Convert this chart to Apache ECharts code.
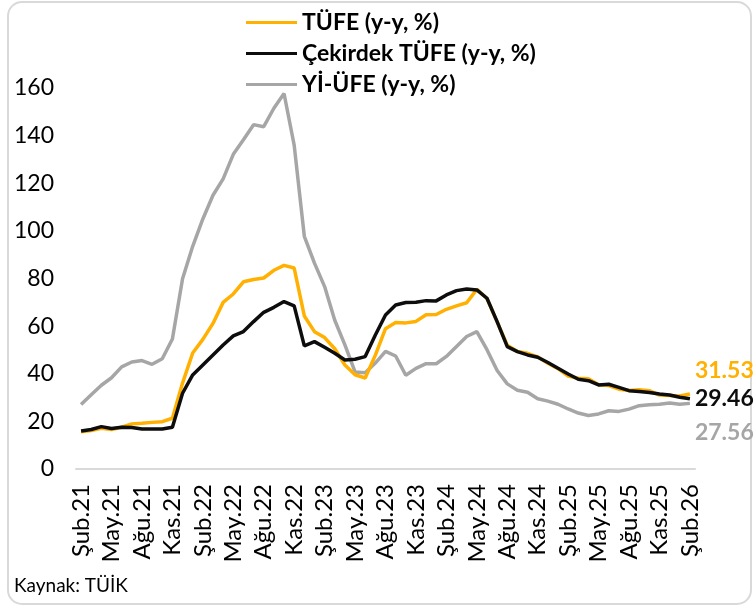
<!DOCTYPE html>
<html>
<head>
<meta charset="utf-8">
<script src="https://cdn.jsdelivr.net/npm/echarts@6/dist/echarts.min.js"></script>
<style>
html,body{margin:0;padding:0;background:#fff;}
#c{width:756px;height:608px;}
</style>
</head>
<body>
<div id="c"></div>
<script>
const categories = [
 'Şub.21','Mar.21','Nis.21','May.21','Haz.21','Tem.21','Ağu.21','Eyl.21','Eki.21','Kas.21','Ara.21',
 'Oca.22','Şub.22','Mar.22','Nis.22','May.22','Haz.22','Tem.22','Ağu.22','Eyl.22','Eki.22','Kas.22','Ara.22',
 'Oca.23','Şub.23','Mar.23','Nis.23','May.23','Haz.23','Tem.23','Ağu.23','Eyl.23','Eki.23','Kas.23','Ara.23',
 'Oca.24','Şub.24','Mar.24','Nis.24','May.24','Haz.24','Tem.24','Ağu.24','Eyl.24','Eki.24','Kas.24','Ara.24',
 'Oca.25','Şub.25','Mar.25','Nis.25','May.25','Haz.25','Tem.25','Ağu.25','Eyl.25','Eki.25','Kas.25','Ara.25',
 'Oca.26','Şub.26'
];
const tufe = [
 15.61,16.19,17.14,16.59,17.53,18.95,19.25,19.58,19.89,21.31,36.08,
 48.69,54.44,61.14,69.97,73.50,78.62,79.60,80.21,83.45,85.51,84.39,64.27,
 57.68,55.18,50.51,43.68,39.59,38.21,47.83,58.94,61.53,61.36,61.98,64.77,
 64.86,67.07,68.50,69.80,75.45,71.60,61.78,51.97,49.38,48.58,47.09,44.38,
 42.12,39.05,38.10,37.86,35.41,35.05,33.52,32.95,33.29,32.87,31.07,30.89,
 30.65,31.53
];
const cekirdek = [
 16.0,16.6,17.8,17.0,17.5,17.4,16.8,16.8,16.8,17.5,31.8,
 39.5,43.7,47.9,52.1,55.9,57.7,61.9,65.8,67.9,70.3,68.5,51.7,
 53.5,51.1,48.6,45.8,46.1,47.2,56.3,64.7,68.9,69.9,70.0,70.7,
 70.6,73.1,74.9,75.6,75.2,71.7,61.9,51.4,49.3,47.9,46.9,44.7,
 42.3,39.9,37.7,37.1,35.3,35.6,34.3,32.9,32.5,32.1,31.5,31.1,
 30.1,29.46
];
const yiufe = [
 27.09,31.20,35.17,38.33,42.89,44.92,45.52,43.96,46.31,54.62,79.89,
 93.53,105.01,114.97,121.82,132.16,138.31,144.61,143.75,151.50,157.69,136.02,97.72,
 86.46,76.61,62.45,52.11,40.76,40.42,44.50,49.41,47.44,39.39,42.25,44.22,
 44.20,47.29,51.47,55.66,57.68,50.09,41.37,35.75,33.09,32.24,29.47,28.52,
 27.20,25.21,23.50,22.50,23.13,24.45,24.19,25.16,26.59,27.00,27.23,27.67,
 27.17,27.56
];
const seriesNames = ['TÜFE (y-y, %)','Çekirdek TÜFE (y-y, %)','Yİ-ÜFE (y-y, %)'];
const colors = ['#FFB000','#0D0D0D','#A6A6A6'];

const FONT = 'Lato, "Open Sans", sans-serif';
const chart = echarts.init(document.getElementById('c'), null, {renderer:'canvas'});

function endLabel(color, dy){
  return {
    show:true,
    formatter: p => Number(p.value).toFixed(2),
    color: color,
    fontFamily: FONT,
    fontWeight: 'bold',
    fontSize: 23,
    distance: 5,
    offset: [0, dy]
  };
}

chart.setOption({
  animation:false,
  textStyle:{fontFamily:FONT},
  graphic:[
    {type:'rect', shape:{x:8,y:2,width:743,height:602,r:14}, style:{fill:'none',stroke:'#D9D9D9',lineWidth:2}, z:-1},
    {type:'text', x:14, y:586, style:{text:'Kaynak: TÜİK', font:'19px '+FONT, fill:'#000', textVerticalAlign:'middle'}}
  ],
  legend:{
    orient:'vertical',
    left:246, top:11, padding:0,
    itemWidth:51, itemHeight:3, itemGap:8,
    icon:'rect',
    data: seriesNames,
    textStyle:{fontFamily:FONT, fontWeight:'bold', fontSize:23, color:'#000', lineHeight:23, padding:[0,0,0,0]}
  },
  grid:{left:76, right:61, top:88, bottom:139, containLabel:false},
  xAxis:{
    type:'category',
    data: categories,
    boundaryGap:true,
    axisLine:{show:true, lineStyle:{color:'#D9D9D9', width:2}},
    axisTick:{show:false},
    axisLabel:{rotate:90, interval:2, fontSize:24, color:'#000', margin:15, fontFamily:FONT},
    splitLine:{show:false}
  },
  yAxis:{
    type:'value', min:0, max:160, interval:20,
    axisLine:{show:false}, axisTick:{show:false},
    splitLine:{show:false},
    axisLabel:{fontSize:23, color:'#000', margin:22, fontFamily:FONT}
  },
  series:[
    {name:seriesNames[2], type:'line', data:yiufe, symbol:'none', color:colors[2],
     lineStyle:{width:3.5, color:colors[2]}, endLabel:endLabel(colors[2], 29), z:2},
    {name:seriesNames[0], type:'line', data:tufe, symbol:'none', color:colors[0],
     lineStyle:{width:3.5, color:colors[0]}, endLabel:endLabel(colors[0], -23), z:3},
    {name:seriesNames[1], type:'line', data:cekirdek, symbol:'none', color:colors[1],
     lineStyle:{width:3.5, color:colors[1]}, endLabel:endLabel(colors[1], 0), z:4}
  ]
});
</script>
</body>
</html>
